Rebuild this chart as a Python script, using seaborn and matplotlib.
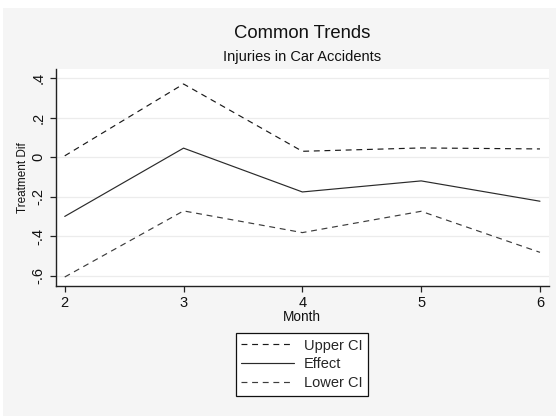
import matplotlib
matplotlib.use("Agg")
import matplotlib.pyplot as plt
import seaborn as sns
import pandas as pd
from matplotlib.patches import Rectangle

months = [2, 3, 4, 5, 6]
upper_ci = [0.007, 0.371, 0.030, 0.047, 0.042]
effect = [-0.300, 0.046, -0.176, -0.120, -0.223]
lower_ci = [-0.607, -0.272, -0.382, -0.274, -0.482]
y_ticks = [-0.6, -0.4, -0.2, 0.0, 0.2, 0.4]
y_tick_labels = ["-.6", "-.4", "-.2", "0", ".2", ".4"]
x_ticks = [2, 3, 4, 5, 6]

sns.set_theme(style="white")
plt.rcParams["font.family"] = ["Liberation Sans", "DejaVu Sans"]

W, H = 556, 416
fig = plt.figure(figsize=(W / 100, H / 100), dpi=100, facecolor="white")
# light grey graph region, drawn behind the axes
fig.patches.append(Rectangle((3 / W, 0), (W - 3) / W, (H - 8) / H,
                             transform=fig.transFigure, facecolor="#f5f5f5",
                             edgecolor="none", zorder=-10))

left, right, top, bottom = 55.7, 549, 69, 285.5
ax = fig.add_axes([left / W, 1 - bottom / H, (right - left) / W, (bottom - top) / H])
ax.set_facecolor("white")

df = pd.DataFrame({"Month": months, "Upper CI": upper_ci,
                   "Effect": effect, "Lower CI": lower_ci})

sns.lineplot(data=df, x="Month", y="Upper CI", ax=ax, color="#1a1a1a",
             linewidth=0.85, label="Upper CI", zorder=3)
sns.lineplot(data=df, x="Month", y="Effect", ax=ax, color="#2a2a2a",
             linewidth=0.85, label="Effect", zorder=3)
sns.lineplot(data=df, x="Month", y="Lower CI", ax=ax, color="#3c3c3c",
             linewidth=0.85, label="Lower CI", zorder=3)
ax.lines[0].set_linestyle((0, (5, 4)))
ax.lines[2].set_linestyle((0, (5, 4)))

ax.set_xlim(1.924, 6.076)
ax.set_ylim(-0.650, 0.447)
ax.set_xticks(x_ticks)
ax.set_xticklabels([str(m) for m in x_ticks], fontsize=10.5, color="#111111")
ax.set_yticks(y_ticks)
ax.set_yticklabels(y_tick_labels, fontsize=10.5, rotation=90, va="center",
                   color="#111111")
for yv in y_ticks:
    ax.axhline(yv, color="#ececec", linewidth=0.9, zorder=1)

for side in ["top", "right"]:
    ax.spines[side].set_visible(False)
for side in ["left", "bottom"]:
    ax.spines[side].set_color("#222222")
    ax.spines[side].set_linewidth(1.0)
ax.tick_params(axis="both", direction="out", length=4.5, width=0.9,
               color="#222222", pad=3, left=True, bottom=True)

ax.set_xlabel("Month", fontsize=9.8, color="#111111", labelpad=0.2)
ax.set_ylabel("Treatment Dif", fontsize=8.5, color="#111111", labelpad=2)

fig.text(302 / W, 1 - 34 / H, "Common Trends", ha="center", va="center",
         fontsize=13.3, color="#111111")
fig.text(302 / W, 1 - 57 / H, "Injuries in Car Accidents", ha="center",
         va="center", fontsize=10.5, color="#111111")

leg = ax.legend(loc="center", bbox_to_anchor=(302 / W, 1 - 364.5 / H),
                bbox_transform=fig.transFigure, ncol=1, fontsize=10.5,
                frameon=True, fancybox=False, handlelength=3.6,
                handletextpad=0.7, labelspacing=0.34, borderpad=0.38,
                borderaxespad=0)
leg.get_frame().set_edgecolor("#111111")
leg.get_frame().set_linewidth(0.9)
leg.get_frame().set_facecolor("white")
leg.get_frame().set_alpha(1)

fig.savefig("out.png", dpi=100, facecolor=fig.get_facecolor())
